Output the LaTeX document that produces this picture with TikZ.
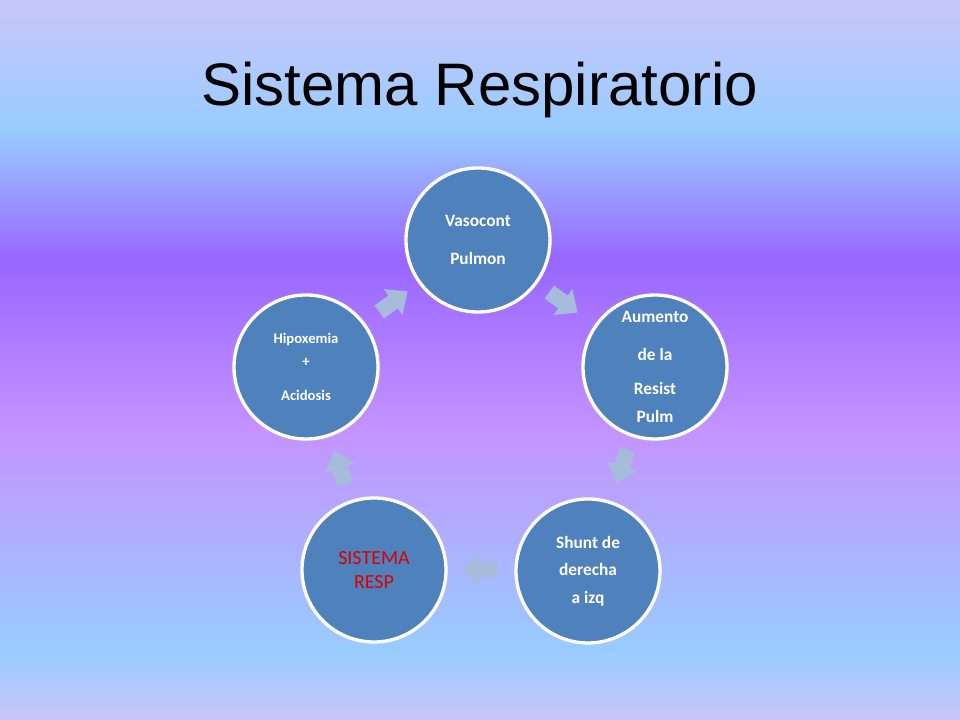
\documentclass[tikz,border=0pt]{standalone}
\usepackage{fontspec}
\setmainfont{Carlito}
\newfontfamily\titlefont{Liberation Sans}
\begin{document}
\begin{tikzpicture}[x=0.75pt,y=0.75pt,
  circ/.style={circle,draw=white,line width=2.5pt,fill=cb,minimum size=144*0.75pt,inner sep=0pt,text=white,align=center},
  barrow/.style={fill=ab,draw=none}]
\definecolor{cb}{HTML}{4F81BD}
\definecolor{ab}{HTML}{A7BBDA}
\definecolor{lav}{HTML}{C9C6FA}
\definecolor{lb}{HTML}{99CCFF}
\definecolor{pu}{HTML}{9966FF}
\definecolor{lp}{HTML}{C493FF}
\useasboundingbox (0,0) rectangle (960,720);
\shade[top color=lav,bottom color=lb] (0,720) rectangle (960,590);
\shade[top color=lb,bottom color=pu] (0,590.5) rectangle (960,460);
\shade[top color=pu,bottom color=lp] (0,460.5) rectangle (960,290);
\shade[top color=lp,bottom color=lb] (0,290.5) rectangle (960,70);
\shade[top color=lb,bottom color=lav] (0,70.5) rectangle (960,0);
\node[font=\titlefont\fontsize{45}{48}\selectfont] (title) at (480,630) {Sistema Respiratorio};
\node[circ,font=\bfseries\fontsize{13}{28.5}\selectfont] (top) at (478,480) {Vasocont\\Pulmon};
\node[circ,font=\bfseries\fontsize{13}{28}\selectfont] (right) at (655,353) {Aumento\\de la\\[-2.5pt]Resist\\[-7pt]Pulm};
\node[circ,font=\bfseries\fontsize{13}{20.5}\selectfont] (br) at (588,149) {Shunt de\\derecha\\a izq};
\node[circ,font=\fontsize{15}{18}\selectfont,text=red!85!black] (bl) at (374,150) {SISTEMA\\RESP};
\node[circ,font=\bfseries\fontsize{11}{17}\selectfont] (left) at (306,353) {Hipoxemia\\+\\[8.5pt]Acidosis};
\foreach \x/\y/\a in {393/418/36, 563/418/-36, 622/254/-108, 480/150/180, 340/252/108}{
  \fill[barrow,shift={(\x,\y)},rotate=\a] (-17,-8)--(0,-8)--(0,-16)--(18,0)--(0,16)--(0,8)--(-17,8)--cycle;
}
\end{tikzpicture}
\end{document}
